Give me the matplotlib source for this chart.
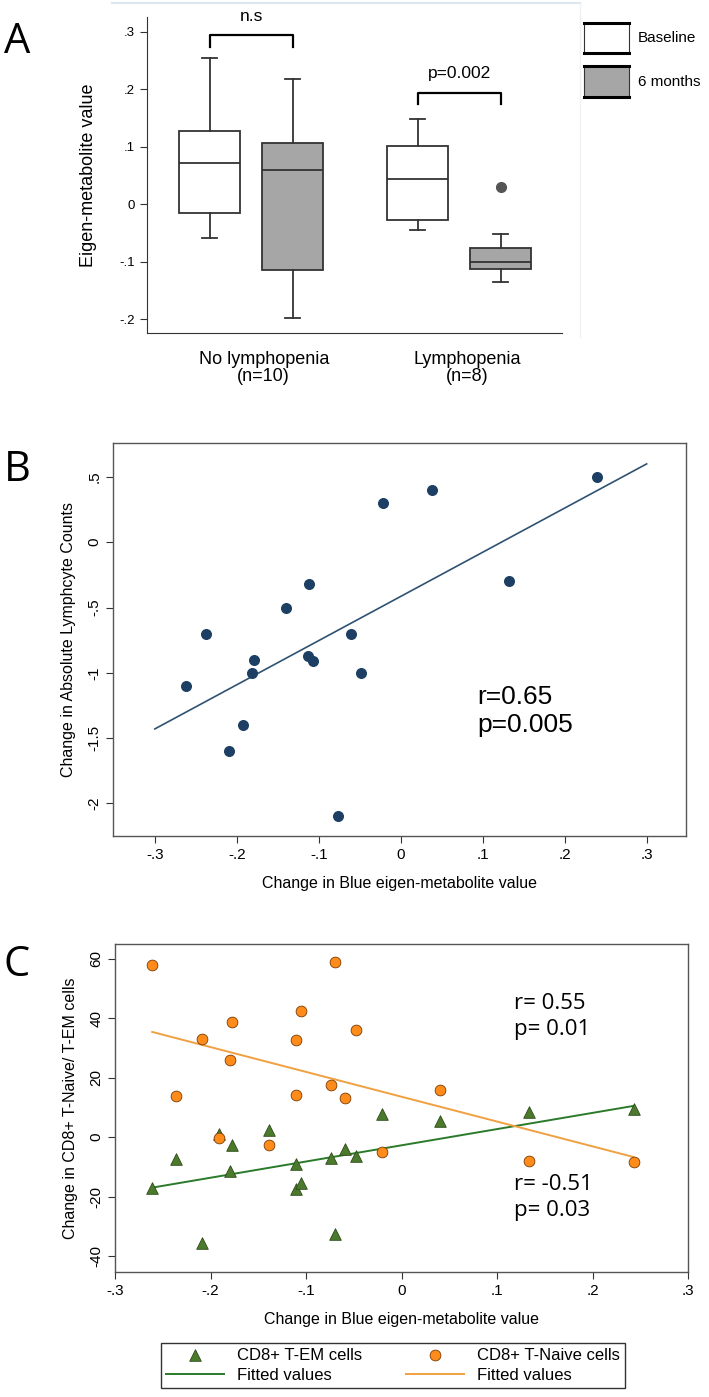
import matplotlib
matplotlib.use("Agg")
import matplotlib.pyplot as plt
import matplotlib.patches as mp
from matplotlib.lines import Line2D
from matplotlib import font_manager
from matplotlib.ticker import FuncFormatter

# ---- panel A: box statistics (whisker low, Q1, median, Q3, whisker high)
groups = ["No lymphopenia\n(n=10)", "Lymphopenia\n(n=8)"]
box_labels = ["Baseline", "6 months"]
whislo = [-0.059, -0.198, -0.044, -0.135]
q1 = [-0.015, -0.114, -0.027, -0.112]
med = [0.072, 0.059, 0.044, -0.100]
q3 = [0.128, 0.106, 0.102, -0.077]
whishi = [0.255, 0.217, 0.148, -0.052]
outliers = [[], [], [], [0.030]]
pvals = ["n.s", "p=0.002"]

# ---- panel B: change in eigen-metabolite vs change in lymphocyte counts
b_x = [-0.262, -0.237, -0.210, -0.192, -0.181, -0.179, -0.140, -0.112, -0.113,
       -0.107, -0.076, -0.061, -0.049, -0.022, 0.038, 0.132, 0.240]
b_y = [-1.10, -0.70, -1.60, -1.40, -1.00, -0.90, -0.50, -0.32, -0.87,
       -0.91, -2.10, -0.70, -1.00, 0.30, 0.40, -0.30, 0.50]
b_fit_x = [-0.3, 0.3]
b_fit_y = [-1.43, 0.60]

# ---- panel C: CD8+ subsets
c_x = [-0.261, -0.236, -0.209, -0.191, -0.180, -0.178, -0.139, -0.110, -0.110,
       -0.105, -0.074, -0.070, -0.059, -0.048, -0.020, 0.040, 0.134, 0.243]
naive_y = [58.0, 13.9, 32.9, -0.3, 26.0, 38.6, -2.5, 32.8, 14.1,
           42.4, 17.4, 58.9, 13.1, 35.9, -4.9, 15.9, -8.0, -8.3]
em_y = [-17.0, -7.4, -35.5, 1.2, -11.4, -2.6, 2.4, -9.2, -17.5,
        -15.4, -7.1, -32.5, -4.0, -6.3, 7.8, 5.4, 8.5, 9.5]
naive_fit = [35.4, -6.7]
em_fit = [-17.0, 10.5]
c_fit_x = [-0.261, 0.243]


def pick_font(names):
    have = {f.name for f in font_manager.fontManager.ttflist}
    for n in names:
        if n in have:
            return n
    return "DejaVu Sans"


NARROW = pick_font(["Liberation Sans Narrow", "Liberation Sans"])
ARIAL = pick_font(["Liberation Sans", "DejaVu Sans"])
CALIBRI = pick_font(["Open Sans", "Lato", "DejaVu Sans"])
plt.rcParams["font.family"] = ARIAL
plt.rcParams["axes.unicode_minus"] = False


def stata_fmt(v, pos):
    s = f"{v:g}"
    if s.startswith("0."):
        s = s[1:]
    elif s.startswith("-0."):
        s = "-" + s[2:]
    return s


fig = plt.figure(figsize=(7.09, 13.97), dpi=100)
W, H = 709, 1397


def px_axes(l, t, r, b):
    return fig.add_axes([l / W, 1 - b / H, (r - l) / W, (b - t) / H])


# ================= A =================
axA = px_axes(147, 17, 562, 333)
pos = [1, 2, 3.5, 4.5]
stats = []
for i in range(4):
    stats.append(dict(whislo=whislo[i], q1=q1[i], med=med[i], q3=q3[i],
                      whishi=whishi[i], fliers=outliers[i]))
bp = axA.bxp(stats, positions=pos, widths=0.735, patch_artist=True,
             showfliers=True, manage_ticks=False,
             medianprops=dict(color="#333333", lw=1.3),
             whiskerprops=dict(color="#333333", lw=1.3),
             capprops=dict(color="#333333", lw=1.3),
             flierprops=dict(marker="o", markerfacecolor="#555555",
                             markeredgecolor="#555555", markersize=7))
for i, box in enumerate(bp["boxes"]):
    box.set_facecolor("white" if i % 2 == 0 else "#a6a6a6")
    box.set_edgecolor("#333333")
    box.set_linewidth(1.3)
for cap in bp["caps"]:
    x0, x1 = cap.get_xdata()
    c = (x0 + x1) / 2
    cap.set_xdata([c - 0.09, c + 0.09])

axA.set_xlim(0.247, 5.235)
axA.set_ylim(-0.224, 0.3256)
axA.set_yticks([-0.2, -0.1, 0, 0.1, 0.2, 0.3])
axA.yaxis.set_major_formatter(FuncFormatter(stata_fmt))
axA.set_xticks([])
axA.spines["top"].set_visible(False)
axA.spines["right"].set_visible(False)
axA.spines["left"].set_color("#333333")
axA.spines["bottom"].set_color("#333333")
axA.tick_params(axis="y", labelsize=9.5, length=5, color="#333333")
axA.set_ylabel("Eigen-metabolite value", fontsize=13, labelpad=16)

# significance brackets
for (xa, xb), ytop, ylo, ytext, txt in [((pos[0], pos[1]), 0.294, 0.274, 0.326, pvals[0]),
                                      ((pos[2], pos[3]), 0.193, 0.174, 0.228, pvals[1])]:
    axA.plot([xa, xa, xb, xb], [ylo, ytop, ytop, ylo], color="black", lw=1.6,
             clip_on=False)
    axA.text((xa + xb) / 2, ytext, txt, ha="center", va="center", fontsize=12.5,
             family=NARROW, clip_on=False)

for gx, g in zip([1.65, 4.1], groups):
    axA.text(gx, -0.255, g, ha="center", va="top", fontsize=13, family=NARROW,
             linespacing=1.05, clip_on=False)

# legend keys (Stata style: heavy top / bottom rules)
for (yt, yb), fc, lab in [((23, 53), "white", box_labels[0]),
                          ((66, 97), "#a6a6a6", box_labels[1])]:
    fig.patches.append(mp.Rectangle((584 / W, 1 - yb / H), 45 / W, (yb - yt) / H,
                                    transform=fig.transFigure, fc=fc,
                                    ec="#333333", lw=0.8))
    for yy in (yt, yb):
        fig.lines.append(Line2D([584 / W, 629 / W], [1 - yy / H] * 2,
                                transform=fig.transFigure, color="black", lw=2.2))
    fig.text(638 / W, 1 - (yt + yb) / 2 / H, lab, ha="left", va="center",
             fontsize=11, family=NARROW)

# faint plot-region border
fig.lines.append(Line2D([112 / W, 580 / W], [1 - 3 / H] * 2,
                        transform=fig.transFigure, color="#dbe6ee", lw=1.5))
fig.lines.append(Line2D([580 / W, 580 / W], [1 - 3 / H, 1 - 337 / H],
                        transform=fig.transFigure, color="#eef2f5", lw=1))

# ================= B =================
axB = px_axes(113, 443, 686, 836)
axB.scatter(b_x, b_y, s=48, color="#1c3f63", zorder=3)
axB.plot(b_fit_x, b_fit_y, color="#2f5273", lw=1.2, zorder=2)
axB.set_xlim(-0.351, 0.348)
axB.set_ylim(-2.25, 0.76)
axB.set_xticks([-0.3, -0.2, -0.1, 0, 0.1, 0.2, 0.3])
axB.set_yticks([-2, -1.5, -1, -0.5, 0, 0.5])
axB.xaxis.set_major_formatter(FuncFormatter(stata_fmt))
axB.yaxis.set_major_formatter(FuncFormatter(stata_fmt))
axB.tick_params(labelsize=11, length=5, color="#333333")
for lab in axB.get_yticklabels():
    lab.set_rotation(90)
    lab.set_va("center")
for s in axB.spines.values():
    s.set_color("#555555")
    s.set_linewidth(1.0)
axB.set_xlabel("Change in Blue eigen-metabolite value", fontsize=11.5, labelpad=10)
axB.set_ylabel("Change in Absolute Lymphcyte Counts", fontsize=11.5, labelpad=8)
axB.text(0.093, -1.294, "r=0.65\np=0.005", fontsize=19, family=NARROW,
         ha="left", va="center", linespacing=1.2)

# ================= C =================
axC = px_axes(115, 944, 688, 1272)
h_em = axC.scatter(c_x, em_y, marker="^", s=70, color="#4c7a2c",
                   edgecolors="#2d4a18", lw=0.6, zorder=3)
h_emfit, = axC.plot(c_fit_x, em_fit, color="#2a7a2a", lw=1.4, zorder=2)
h_nv = axC.scatter(c_x, naive_y, marker="o", s=60, color="#ff8c1a",
                   edgecolors="#7a3a00", lw=0.6, zorder=3)
h_nvfit, = axC.plot(c_fit_x, naive_fit, color="#f0a040", lw=1.4, zorder=2)
axC.set_xlim(-0.3, 0.3)
axC.set_ylim(-45.4, 65)
axC.set_xticks([-0.3, -0.2, -0.1, 0, 0.1, 0.2, 0.3])
axC.set_yticks([-40, -20, 0, 20, 40, 60])
axC.xaxis.set_major_formatter(FuncFormatter(stata_fmt))
axC.tick_params(labelsize=11, length=5, color="#333333")
for lab in axC.get_yticklabels():
    lab.set_rotation(90)
    lab.set_va("center")
for s in axC.spines.values():
    s.set_color("#555555")
    s.set_linewidth(1.0)
axC.set_xlabel("Change in Blue eigen-metabolite value", fontsize=11.5, labelpad=10)
axC.set_ylabel("Change in CD8+ T-Naive/ T-EM cells", fontsize=11.5, labelpad=8)
axC.text(0.118, 40.5, "r= 0.55\np= 0.01", fontsize=16, family=CALIBRI,
         ha="left", va="center", linespacing=1.3)
axC.text(0.118, -20.3, "r= -0.51\np= 0.03", fontsize=16, family=CALIBRI,
         ha="left", va="center", linespacing=1.3)
leg = axC.legend([h_em, h_emfit, h_nv, h_nvfit],
                 ["CD8+ T-EM cells", "Fitted values",
                  "CD8+ T-Naive cells", "Fitted values"], ncol=2,
                 loc="upper center", bbox_to_anchor=(0.485, -0.19), frameon=True,
                 fancybox=False, edgecolor="black", fontsize=12,
                 columnspacing=2.6, handlelength=3.5, borderpad=0.3,
                 labelspacing=0.3, scatterpoints=1)
leg.get_frame().set_linewidth(1.0)

# panel letters
for lab, y in [("A", 42), ("B", 470), ("C", 965)]:
    fig.text(4 / W, 1 - y / H, lab, fontsize=30, family=CALIBRI, ha="left",
             va="center")

fig.savefig("out.png", dpi=100)
